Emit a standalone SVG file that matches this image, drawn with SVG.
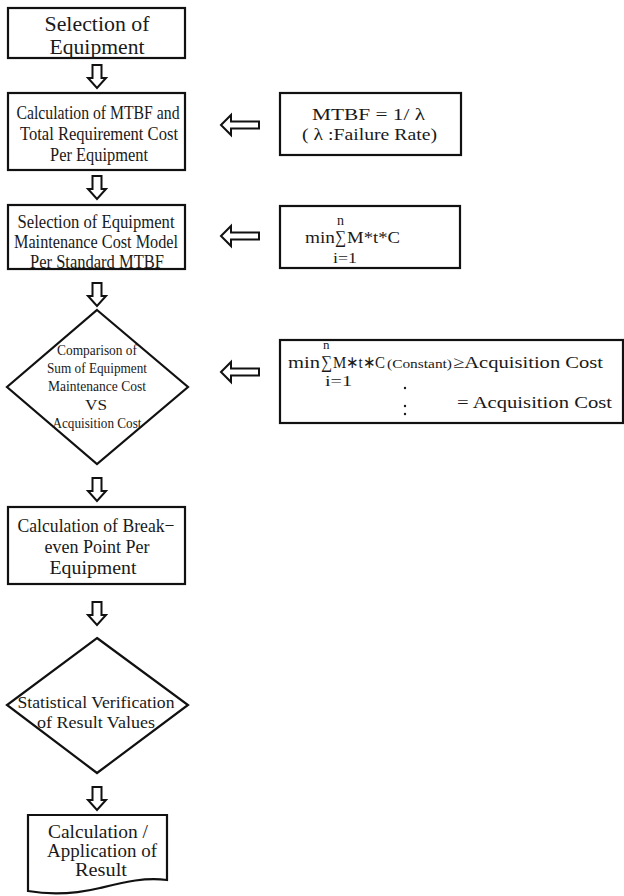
<svg xmlns="http://www.w3.org/2000/svg" width="624" height="896" viewBox="0 0 624 896">
<defs>
<style>
.box{fill:#fff;stroke:#111;stroke-width:2.2}
.arr{fill:#fff;stroke:#111;stroke-width:2;stroke-linejoin:miter}
text{font-family:"Liberation Serif","Noto Sans CJK JP",serif;fill:#1a1a1a}
.c{text-anchor:middle}
</style>
<path id="down" d="M-4.5,0 H4.5 V13 H9 L0,23 L-9,13 H-4.5 Z"/>
<path id="left" d="M0,0 L10,-10 V-3.5 H38 V3.5 H10 V10 Z"/>
</defs>
<rect width="624" height="896" fill="#fff"/>

<g id="connectors">
<use href="#down" class="arr" x="97" y="65"/>
<use href="#down" class="arr" x="97" y="176"/>
<use href="#down" class="arr" x="97" y="283"/>
<use href="#down" class="arr" x="97" y="478"/>
<use href="#down" class="arr" x="97" y="602"/>
<use href="#down" class="arr" x="97" y="787"/>
<use href="#left" class="arr" x="221" y="125"/>
<use href="#left" class="arr" x="221" y="236"/>
<use href="#left" class="arr" x="221" y="372"/>
</g>

<g id="n1">
<rect class="box" x="8" y="8" width="177" height="50"/>
<text class="c" x="97" y="31" font-size="20" textLength="105" lengthAdjust="spacingAndGlyphs">Selection of</text>
<text class="c" x="97" y="54" font-size="20" textLength="95" lengthAdjust="spacingAndGlyphs">Equipment</text>
</g>

<g id="n2">
<rect class="box" x="8" y="93" width="177" height="77"/>
<text class="c" x="98" y="119" font-size="19" textLength="163" lengthAdjust="spacingAndGlyphs">Calculation of MTBF and</text>
<text class="c" x="99" y="140" font-size="19" textLength="158" lengthAdjust="spacingAndGlyphs">Total Requirement Cost</text>
<text class="c" x="99" y="161" font-size="19" textLength="98" lengthAdjust="spacingAndGlyphs">Per Equipment</text>
</g>

<g id="n3">
<rect class="box" x="8" y="205" width="177" height="64"/>
<text class="c" x="96" y="228" font-size="18" textLength="157" lengthAdjust="spacingAndGlyphs">Selection of Equipment</text>
<text class="c" x="96" y="248" font-size="18" textLength="164" lengthAdjust="spacingAndGlyphs">Maintenance Cost Model</text>
<text class="c" x="97" y="268" font-size="18" textLength="134" lengthAdjust="spacingAndGlyphs">Per Standard MTBF</text>
</g>

<g id="n4">
<path class="box" d="M97,310 L188,387 L97,464 L7,387 Z"/>
<text class="c" x="97" y="355" font-size="15.5" textLength="80" lengthAdjust="spacingAndGlyphs">Comparison of</text>
<text class="c" x="97" y="373" font-size="15.5" textLength="100" lengthAdjust="spacingAndGlyphs">Sum of Equipment</text>
<text class="c" x="97" y="391" font-size="15.5" textLength="98" lengthAdjust="spacingAndGlyphs">Maintenance Cost</text>
<text class="c" x="96" y="410" font-size="15.5" textLength="22" lengthAdjust="spacingAndGlyphs">VS</text>
<text class="c" x="97" y="428" font-size="15.5" textLength="89" lengthAdjust="spacingAndGlyphs">Acquisition Cost</text>
</g>

<g id="n5">
<rect class="box" x="8" y="507" width="177" height="77"/>
<text class="c" x="96" y="532" font-size="19" textLength="157" lengthAdjust="spacingAndGlyphs">Calculation of Break−</text>
<text class="c" x="97" y="553" font-size="19" textLength="105" lengthAdjust="spacingAndGlyphs">even Point Per</text>
<text class="c" x="93" y="574" font-size="19" textLength="87" lengthAdjust="spacingAndGlyphs">Equipment</text>
</g>

<g id="n6">
<path class="box" d="M97,638 L188,705 L97,773 L7,705 Z"/>
<text class="c" x="96" y="708" font-size="17" textLength="157" lengthAdjust="spacingAndGlyphs">Statistical Verification</text>
<text class="c" x="96" y="728" font-size="17" textLength="118" lengthAdjust="spacingAndGlyphs">of Result Values</text>
</g>

<g id="n7">
<path class="box" d="M28,815 H167 V880 C145,877 125,882 100,888 C75,894 50,895 28,891 Z"/>
<text class="c" x="98" y="838" font-size="18" textLength="100" lengthAdjust="spacingAndGlyphs">Calculation /</text>
<text class="c" x="102" y="857" font-size="18" textLength="110" lengthAdjust="spacingAndGlyphs">Application of</text>
<text class="c" x="101" y="876" font-size="18" textLength="52" lengthAdjust="spacingAndGlyphs">Result</text>
</g>

<g id="f1">
<rect class="box" x="280" y="93" width="181" height="62"/>
<text x="312" y="120" font-size="17" textLength="113" lengthAdjust="spacingAndGlyphs">MTBF = 1/ λ</text>
<text x="302" y="140" font-size="17" textLength="135" lengthAdjust="spacingAndGlyphs">( λ :Failure Rate)</text>
</g>

<g id="f2">
<rect class="box" x="280" y="206" width="180" height="62"/>
<text x="305" y="243" font-size="17" textLength="30" lengthAdjust="spacingAndGlyphs">min</text>
<text x="335" y="243" font-size="18" textLength="11" lengthAdjust="spacingAndGlyphs">∑</text>
<text x="337" y="225" font-size="14">n</text>
<text x="347" y="243" font-size="17" textLength="53" lengthAdjust="spacingAndGlyphs">M*t*C</text>
<text x="333" y="263" font-size="15" textLength="24" lengthAdjust="spacingAndGlyphs">i=1</text>
</g>

<g id="f3">
<rect class="box" x="280" y="340" width="343" height="83"/>
<text x="288" y="368" font-size="17" textLength="32" lengthAdjust="spacingAndGlyphs">min</text>
<text x="321" y="368" font-size="18" textLength="11" lengthAdjust="spacingAndGlyphs">∑</text>
<text x="323" y="349" font-size="13">n</text>
<text x="333" y="368" font-size="17" textLength="52" lengthAdjust="spacingAndGlyphs">M∗t∗C</text>
<text x="387" y="368" font-size="13" textLength="65" lengthAdjust="spacingAndGlyphs">(Constant)</text>
<text x="453" y="368" font-size="17" textLength="150" lengthAdjust="spacingAndGlyphs">≥Acquisition Cost</text>
<text x="325" y="386" font-size="15" textLength="27" lengthAdjust="spacingAndGlyphs">i=1</text>
<circle cx="405" cy="388" r="1.2" fill="#1a1a1a"/>
<circle cx="405" cy="406" r="1.2" fill="#1a1a1a"/>
<circle cx="405" cy="414" r="1.2" fill="#1a1a1a"/>
<text x="457" y="408" font-size="17" textLength="155" lengthAdjust="spacingAndGlyphs">= Acquisition Cost</text>
</g>
</svg>
